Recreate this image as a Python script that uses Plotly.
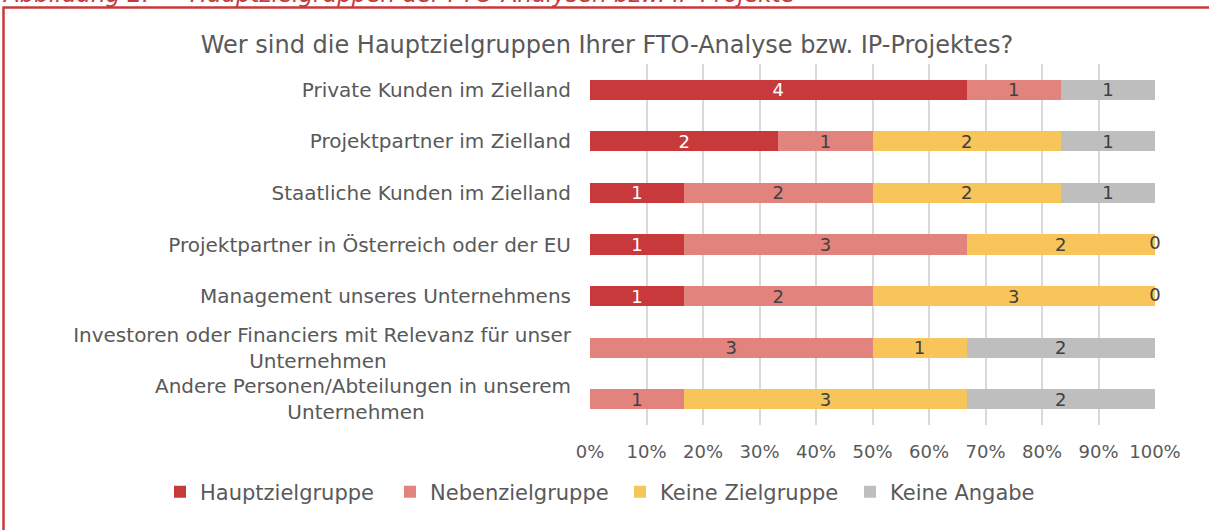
import plotly.graph_objects as go

categories = [
    "Private Kunden im Zielland",
    "Projektpartner im Zielland",
    "Staatliche Kunden im Zielland",
    "Projektpartner in Österreich oder der EU",
    "Management unseres Unternehmens",
    "Investoren oder Financiers mit Relevanz für unser<br>Unternehmen" + "\u00a0" * 29,
    "Andere Personen/Abteilungen in unserem<br>Unternehmen" + "\u00a0" * 23,
]
series_names = ["Hauptzielgruppe", "Nebenzielgruppe", "Keine Zielgruppe", "Keine Angabe"]
haupt = [4, 2, 1, 1, 1, 0, 0]
neben = [1, 1, 2, 3, 2, 3, 1]
keine_ziel = [0, 2, 2, 2, 3, 1, 3]
keine_angabe = [1, 1, 1, 0, 0, 2, 2]
x_ticks = [0, 10, 20, 30, 40, 50, 60, 70, 80, 90, 100]
x_ticklabels = ["0%", "10%", "20%", "30%", "40%", "50%", "60%", "70%", "80%", "90%", "100%"]

colors = ["#C8393B", "#E3837E", "#F7C559", "#BEBEBE"]
text_colors = ["#FFFFFF", "#404040", "#404040", "#404040"]
values = [haupt, neben, keine_ziel, keine_angabe]

FONT = "DejaVu Sans"
GREY = "#595959"

fig = go.Figure()
for i, (name, vals) in enumerate(zip(series_names, values)):
    texts = [str(v) if v else "" for v in vals]
    fig.add_trace(go.Bar(
        y=categories, x=vals, name=name, orientation="h",
        marker=dict(color=colors[i], line=dict(width=0)),
        text=texts, textposition="inside", insidetextanchor="middle",
        constraintext="none", textangle=0, cliponaxis=False,
        textfont=dict(family=FONT, size=18, color=text_colors[i]),
        insidetextfont=dict(family=FONT, size=18, color=text_colors[i]),
        hoverinfo="skip",
    ))

# zero-value labels of the last series, drawn at the end of their (empty) segment
totals = [sum(v[k] for v in values) for k in range(len(categories))]
zero_idx = [k for k, v in enumerate(keine_angabe) if v == 0]
fig.add_trace(go.Scatter(
    y=[categories[k] for k in zero_idx],
    x=[100 * sum(v[k] for v in values) / totals[k] for k in zero_idx],
    text=[str(keine_angabe[k]) for k in zero_idx],
    mode="text", textposition="middle center", cliponaxis=False, showlegend=False,
    textfont=dict(family=FONT, size=18, color="#404040"), hoverinfo="skip",
))

W, H = 1209, 530
L, R, T, B = 590, 54, 64, 105
pw, ph = W - L - R, H - T - B

def px(x):
    return (x - L) / pw

def py(y):
    return (H - B - y) / ph

fig.update_layout(
    width=W, height=H,
    barmode="stack", barnorm="percent", bargap=0.61,
    margin=dict(l=L, r=R, t=T, b=B, autoexpand=False),
    paper_bgcolor="white", plot_bgcolor="white",
    font=dict(family=FONT, color=GREY, size=18),
    title=dict(text="Wer sind die Hauptzielgruppen Ihrer FTO-Analyse bzw. IP-Projektes?",
               x=607 / W, xanchor="center", y=1 - 45 / H, yanchor="middle",
               font=dict(family=FONT, size=24, color=GREY)),
    xaxis=dict(range=[0, 100.00001], tickvals=x_ticks, ticktext=x_ticklabels,
               showgrid=True, gridcolor="#D9D9D9", gridwidth=1.5,
               zeroline=False, showline=False, ticks="", ticklabelstandoff=14,
               tickfont=dict(family=FONT, size=18, color=GREY)),
    yaxis=dict(autorange="reversed", showgrid=False, ticks="", ticklabelstandoff=18,
               tickfont=dict(family=FONT, size=20, color=GREY)),
    legend=dict(orientation="h", x=px(160), xanchor="left",
                y=py(492), yanchor="middle",
                font=dict(family=FONT, size=21, color=GREY), traceorder="normal",
                itemwidth=30, entrywidth=185, entrywidthmode="pixels"),
    shapes=[dict(type="rect", xref="paper", yref="paper",
                 x0=px(3.5), x1=px(1220), y0=py(540), y1=py(7.5),
                 line=dict(color="#C8393B", width=2.5), fillcolor="rgba(0,0,0,0)", layer="above")],
    annotations=[
        dict(text="Abbildung 2:", xref="paper", yref="paper", x=px(0), xanchor="left",
             y=py(9), yanchor="bottom", showarrow=False,
             font=dict(family=FONT, size=23, color="#C8393B", style="italic")),
        dict(text="Hauptzielgruppen der FTO-Analysen bzw. IP-Projekte", xref="paper", yref="paper",
             x=px(188), xanchor="left", y=py(9), yanchor="bottom", showarrow=False,
             font=dict(family=FONT, size=23, color="#C8393B", style="italic")),
    ],
)

fig.write_html("out.html", config={"displayModeBar": False},
               post_script="document.body.style.margin='0';document.body.style.padding='0';")
